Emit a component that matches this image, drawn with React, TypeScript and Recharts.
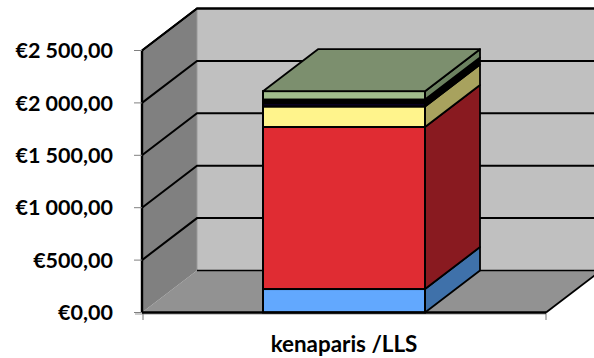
import React from "react";
import { BarChart, Bar, XAxis, YAxis, CartesianGrid } from "recharts";

const categories = ["kenaparis /LLS"];
const seriesNames = ["blue", "red", "yellow", "navy", "black", "green"];
const blueValues = [224];
const redValues = [1546];
const yellowValues = [196];
const navyValues = [33];
const blackValues = [33];
const greenValues = [80];
const yTicks = [0, 500, 1000, 1500, 2000, 2500];
const tickLabels = ["€0,00", "€500,00", "€1 000,00", "€1 500,00", "€2 000,00", "€2 500,00"];

const data = categories.map((name, i) => ({
  name,
  blue: blueValues[i],
  red: redValues[i],
  yellow: yellowValues[i],
  navy: navyValues[i],
  black: blackValues[i],
  green: greenValues[i],
}));

const DX = 55;
const DY = -42;
const FONT = "Lato, sans-serif";
const INK = "#000";

const colors: Record<string, { front: string; side: string; top?: string }> = {
  blue: { front: "#62a8fe", side: "#3f71aa" },
  red: { front: "#e02c33", side: "#891a20" },
  yellow: { front: "#fff48c", side: "#a8a25e" },
  navy: { front: "#0a0020", side: "#000000" },
  black: { front: "#000000", side: "#000000" },
  green: { front: "#a0bc8c", side: "#6c8260", top: "#7c8f6e" },
};

function poly(pts: number[][]) {
  return pts.map((p) => p.join(",")).join(" ");
}

function makeShape(key: string) {
  const c = colors[key];
  return (props: any) => {
    const { x, y, width, height } = props;
    return (
      <g>
        <polygon
          points={poly([
            [x + width, y],
            [x + width + DX, y + DY],
            [x + width + DX, y + height + DY],
            [x + width, y + height],
          ])}
          fill={c.side}
          stroke={INK}
          strokeWidth={1.8}
          strokeLinejoin="round"
        />
        <rect x={x} y={y} width={width} height={height} fill={c.front} stroke={INK} strokeWidth={2} />
        {c.top && (
          <polygon
            points={poly([
              [x, y],
              [x + DX, y + DY],
              [x + width + DX, y + DY],
              [x + width, y],
            ])}
            fill={c.top}
            stroke={INK}
            strokeWidth={1.8}
            strokeLinejoin="round"
          />
        )}
      </g>
    );
  };
}

function gridLine(p: any) {
  const left = p.x;
  const right = p.x + p.width;
  const top = p.y;
  const bottom = p.y + p.height;
  const line = (
    <polyline
      points={poly([
        [p.x1, p.y1],
        [p.x1 + DX, p.y1 + DY],
        [p.x2 + DX, p.y1 + DY],
      ])}
      fill="none"
      stroke={INK}
      strokeWidth={2}
    />
  );
  const isBase = Math.abs(p.y1 - bottom) < 0.6;
  const baseLine = (
    <polyline
      points={poly([
        [left + DX, bottom + DY],
        [right + DX, bottom + DY],
      ])}
      fill="none"
      stroke={INK}
      strokeWidth={1.6}
    />
  );
  return (
    <g key={p.key}>
      {p.index === 0 && (
        <g>
          <polygon
            points={poly([
              [left + DX, top + DY],
              [right + DX, top + DY],
              [right + DX, bottom + DY],
              [left + DX, bottom + DY],
            ])}
            fill="#c0c0c0"
          />
          <polygon
            points={poly([
              [left, bottom],
              [right, bottom],
              [right + DX, bottom + DY],
              [left + DX, bottom + DY],
            ])}
            fill="#929292"
          />
          <polygon
            points={poly([
              [left, top],
              [left + DX, top + DY],
              [left + DX, bottom + DY],
              [left, bottom],
            ])}
            fill="#808080"
          />
          <line x1={left + DX} y1={top + DY} x2={left + DX} y2={bottom + DY} stroke="#999" strokeWidth={1} />
          <line x1={left - 7} y1={bottom + 1.5} x2={right} y2={bottom + 1.5} stroke="#999" strokeWidth={1} />
          <line x1={left + 1} y1={bottom} x2={left + 1} y2={bottom + 7.5} stroke="#777" strokeWidth={1} />
          <line x1={right} y1={bottom} x2={right} y2={bottom + 7.5} stroke="#777" strokeWidth={1} />
          <line x1={right} y1={bottom} x2={right + DX} y2={bottom + DY} stroke={INK} strokeWidth={1.8} />
          <polyline
            points={poly([
              [left, top],
              [left + DX, top + DY],
              [right + DX, top + DY],
            ])}
            fill="none"
            stroke={INK}
            strokeWidth={1.8}
          />
        </g>
      )}
      {isBase ? baseLine : line}
    </g>
  );
}

function formatY(v: number) {
  return tickLabels[yTicks.indexOf(v)] ?? String(v);
}

export default function App() {
  return (
    <div style={{ position: "absolute", left: 0, top: 0, width: 594, height: 358, background: "#fff" }}>
      <BarChart
        width={594}
        height={358}
        data={data}
        margin={{ top: 50.5, right: 48, bottom: 0, left: 0 }}
        barSize={162}
      >
        <CartesianGrid vertical={false} horizontal={gridLine as any} />
        <XAxis
          dataKey="name"
          height={45.5}
          axisLine={{ stroke: INK, strokeWidth: 2.4 }}
          tickLine={false}
          tickMargin={18}
          tick={{ fill: "#000", fontFamily: FONT, fontWeight: 700, fontSize: 22.4 }}
        />
        <YAxis
          width={142}
          domain={[0, 2500]}
          ticks={yTicks}
          interval={0}
          tickFormatter={formatY}
          axisLine={{ stroke: INK, strokeWidth: 2.4 }}
          tickLine={{ stroke: "#808080", strokeWidth: 1 }}
          tickSize={8}
          tickMargin={21}
          tick={{ fill: "#000", fontFamily: FONT, fontWeight: 700, fontSize: 21.5 }}
        />
        {seriesNames.map((k) => (
          <Bar key={k} dataKey={k} stackId="a" isAnimationActive={false} shape={makeShape(k) as any} />
        ))}
      </BarChart>
    </div>
  );
}
